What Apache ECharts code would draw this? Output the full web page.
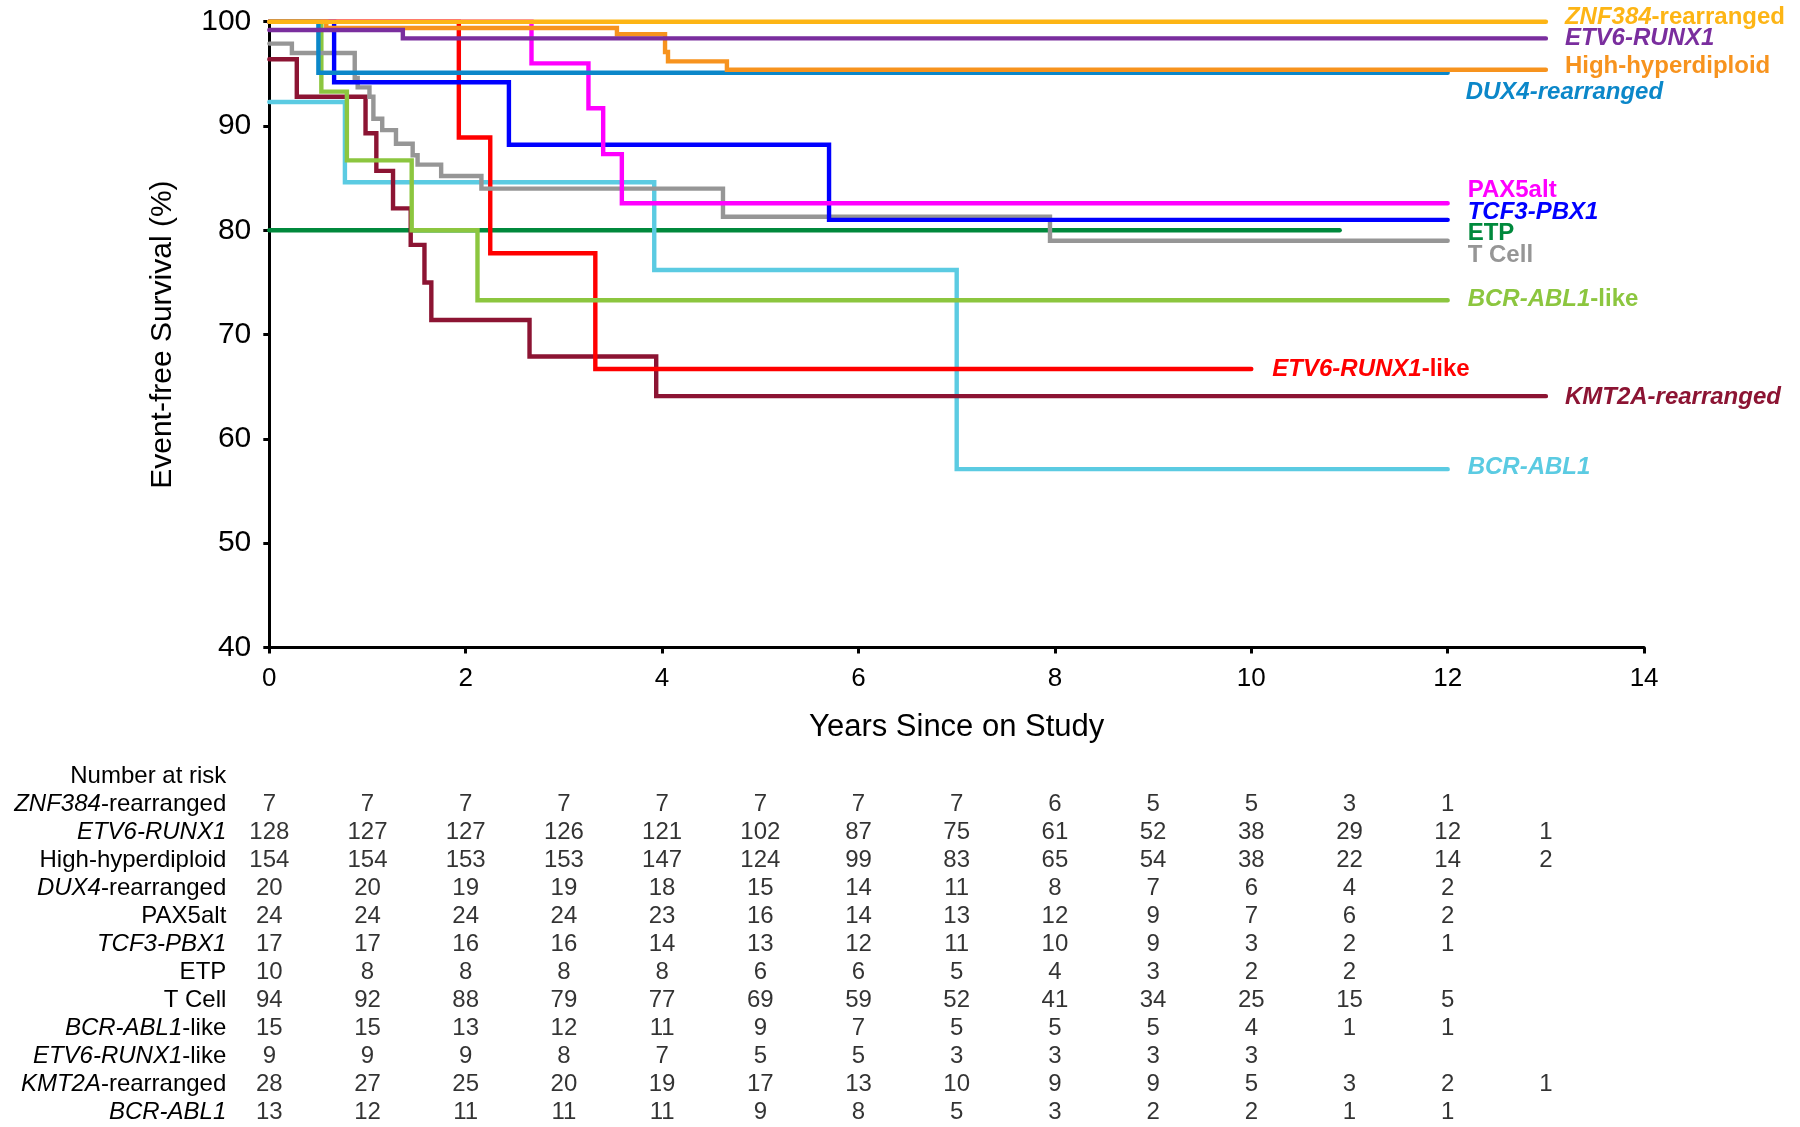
<!DOCTYPE html>
<html><head><meta charset="utf-8">
<script src="https://cdn.jsdelivr.net/npm/echarts@6/dist/echarts.min.js"></script>
<style>html,body{margin:0;padding:0;background:#fff}#c{width:1800px;height:1127px}</style>
</head><body><div id="c"></div>
<script>
// ---------- Kaplan-Meier curves: [years, event-free survival %] ----------
const znf384Rearranged = [[0,100],[13,100]];
const etv6Runx1 = [[0,99.2],[1.36,98.4],[13,98.4]];
const highHyperdiploid = [[0,100],[0.58,99.4],[3.54,98.8],[4.03,97.1],[4.06,96.2],[4.66,95.4],[13,95.4]];
const dux4Rearranged = [[0,100],[0.5,95.1],[12,95.1]];
const pax5alt = [[0,100],[2.67,96.0],[3.25,91.7],[3.40,87.3],[3.59,82.6],[12,82.6]];
const tcf3Pbx1 = [[0,100],[0.66,94.2],[2.44,88.2],[5.7,81.0],[12,81.0]];
const etp = [[0,80],[10.9,80]];
const tCell = [[0,97.9],[0.23,97.0],[0.87,94.6],[0.90,93.7],[1.02,92.8],[1.06,90.7],[1.15,89.6],[1.29,88.3],[1.46,87.2],[1.51,86.3],[1.75,85.2],[2.16,84.0],[4.62,81.3],[7.95,79.0],[12,79.0]];
const bcrAbl1Like = [[0,100],[0.53,93.3],[0.79,86.7],[1.45,80.0],[2.12,73.3],[12,73.3]];
const etv6Runx1Like = [[0,100],[1.93,88.9],[2.25,77.8],[3.32,66.7],[10,66.7]];
const kmt2aRearranged = [[0,96.4],[0.28,92.8],[0.98,89.3],[1.09,85.7],[1.26,82.1],[1.44,78.6],[1.58,75.0],[1.65,71.4],[2.65,67.9],[3.94,64.1],[13,64.1]];
const bcrAbl1 = [[0,92.3],[0.77,84.6],[3.92,76.2],[7.0,57.1],[12,57.1]];

// ---------- axes ----------
const xTicks = [0,2,4,6,8,10,12,14];
const yTicks = [40,50,60,70,80,90,100];

// ---------- Number at risk (years 0..13) ----------
const riskYears = [0,1,2,3,4,5,6,7,8,9,10,11,12,13];
const riskZNF384 = [7,7,7,7,7,7,7,7,6,5,5,3,1];
const riskETV6RUNX1 = [128,127,127,126,121,102,87,75,61,52,38,29,12,1];
const riskHighHyper = [154,154,153,153,147,124,99,83,65,54,38,22,14,2];
const riskDUX4 = [20,20,19,19,18,15,14,11,8,7,6,4,2];
const riskPAX5alt = [24,24,24,24,23,16,14,13,12,9,7,6,2];
const riskTCF3 = [17,17,16,16,14,13,12,11,10,9,3,2,1];
const riskETP = [10,8,8,8,8,6,6,5,4,3,2,2];
const riskTCell = [94,92,88,79,77,69,59,52,41,34,25,15,5];
const riskBCRABL1Like = [15,15,13,12,11,9,7,5,5,5,4,1,1];
const riskETV6Like = [9,9,9,8,7,5,5,3,3,3,3];
const riskKMT2A = [28,27,25,20,19,17,13,10,9,9,5,3,2,1];
const riskBCRABL1 = [13,12,11,11,11,9,8,5,3,2,2,1,1];

const F = '"Liberation Sans", Arial, Helvetica, sans-serif';

// name parts: [text, italic]
const groups = [
  {name:'ZNF384-rearranged', parts:[['ZNF384',1],['-rearranged',0]], labelParts:[['ZNF384',1],['-rearranged',0]], data:znf384Rearranged, risk:riskZNF384, color:'#FDB515', off:[19,-4.5]},
  {name:'ETV6-RUNX1', parts:[['ETV6-RUNX1',1]], labelParts:[['ETV6-RUNX1',1]], data:etv6Runx1, risk:riskETV6RUNX1, color:'#7A2E9E', off:[19,0]},
  {name:'High-hyperdiploid', parts:[['High-hyperdiploid',0]], labelParts:[['High-hyperdiploid',0]], data:highHyperdiploid, risk:riskHighHyper, color:'#F7931E', off:[19,-3]},
  {name:'DUX4-rearranged', parts:[['DUX4',1],['-rearranged',0]], labelParts:[['DUX4-rearranged',1]], data:dux4Rearranged, risk:riskDUX4, color:'#0B87C9', off:[18,19.5]},
  {name:'PAX5alt', parts:[['PAX5alt',0]], labelParts:[['PAX5alt',0]], data:pax5alt, risk:riskPAX5alt, color:'#FF00FF', off:[20,-12.5]},
  {name:'TCF3-PBX1', parts:[['TCF3-PBX1',1]], labelParts:[['TCF3-PBX1',1]], data:tcf3Pbx1, risk:riskTCF3, color:'#0000FF', off:[20,-7.5]},
  {name:'ETP', parts:[['ETP',0]], labelParts:[['ETP',0]], data:etp, risk:riskETP, color:'#00893C', off:[128,3]},
  {name:'T Cell', parts:[['T Cell',0]], labelParts:[['T Cell',0]], data:tCell, risk:riskTCell, color:'#969696', off:[20,14.5]},
  {name:'BCR-ABL1-like', parts:[['BCR-ABL1',1],['-like',0]], labelParts:[['BCR-ABL1',1],['-like',0]], data:bcrAbl1Like, risk:riskBCRABL1Like, color:'#8CC63F', off:[20,-0.5]},
  {name:'ETV6-RUNX1-like', parts:[['ETV6-RUNX1',1],['-like',0]], labelParts:[['ETV6-RUNX1',1],['-like',0]], data:etv6Runx1Like, risk:riskETV6Like, color:'#FF0000', off:[21,0]},
  {name:'KMT2A-rearranged', parts:[['KMT2A',1],['-rearranged',0]], labelParts:[['KMT2A-rearranged',1]], data:kmt2aRearranged, risk:riskKMT2A, color:'#8C1433', off:[19,1]},
  {name:'BCR-ABL1', parts:[['BCR-ABL1',1]], labelParts:[['BCR-ABL1',1]], data:bcrAbl1, risk:riskBCRABL1, color:'#5BCBE2', off:[20,-2]}
];
const drawOrder = ['ETP','BCR-ABL1','KMT2A-rearranged','ETV6-RUNX1-like','BCR-ABL1-like','T Cell','TCF3-PBX1','PAX5alt','DUX4-rearranged','High-hyperdiploid','ETV6-RUNX1','ZNF384-rearranged'];

const rowNames = ['Number at risk'].concat(groups.map(g => g.name));
const rowParts = {'Number at risk':[['Number at risk',0]]};
groups.forEach(g => rowParts[g.name] = g.parts);

const chart = echarts.init(document.getElementById('c'), null, {renderer:'canvas'});

const kmSeries = drawOrder.map(nm => {
  const g = groups.find(x => x.name === nm);
  return {
    type:'line', name:g.name, data:g.data, step:'end', symbol:'none',
    xAxisIndex:0, yAxisIndex:0, clip:false, animation:false,
    lineStyle:{color:g.color, width:4.4, cap:'round', join:'miter'},
    itemStyle:{color:g.color},
    emphasis:{disabled:true},
    endLabel:{
      show:true, distance:0, offset:g.off,
      formatter:() => g.labelParts.map(p => '{' + (p[1] ? 'bi' : 'b') + '|' + p[0] + '}').join(''),
      rich:{
        b:{fontFamily:F, fontSize:24, fontWeight:'bold', color:g.color},
        bi:{fontFamily:F, fontSize:24, fontWeight:'bold', fontStyle:'italic', color:g.color}
      }
    }
  };
});

const riskData = [];
groups.forEach((g, gi) => {
  g.risk.forEach((n, i) => riskData.push([riskYears[i], gi + 1, n]));
});

const riskSeries = {
  type:'scatter', xAxisIndex:1, yAxisIndex:1, data:riskData, symbolSize:1,
  itemStyle:{color:'rgba(0,0,0,0)'}, animation:false, silent:true,
  label:{show:true, position:'inside', formatter:p => String(p.value[2]),
    fontFamily:F, fontSize:24, color:'#000'}
};

chart.setOption({
  backgroundColor:'#fff',
  animation:false,
  grid:[
    {left:269.3, width:1374.8, top:21.7, height:625.8},
    {left:269.3, width:1374.8, top:762.5, height:364}
  ],
  xAxis:[
    {type:'value', gridIndex:0, min:xTicks[0], max:xTicks[xTicks.length-1], interval:xTicks[1]-xTicks[0],
      name:'Years Since on Study', nameLocation:'middle', nameGap:64,
      nameTextStyle:{fontFamily:F, fontSize:31, color:'#000'},
      axisLine:{show:true, onZero:false, lineStyle:{color:'#000', width:3}},
      axisTick:{show:true, inside:false, length:6, lineStyle:{color:'#000', width:3}},
      axisLabel:{fontFamily:F, fontSize:26, color:'#000', margin:18},
      splitLine:{show:false}},
    {type:'value', gridIndex:1, min:xTicks[0], max:xTicks[xTicks.length-1], show:false}
  ],
  yAxis:[
    {type:'value', gridIndex:0, min:yTicks[0], max:yTicks[yTicks.length-1], interval:yTicks[1]-yTicks[0],
      name:'Event-free Survival (%)', nameLocation:'middle', nameGap:92, nameRotate:90,
      nameTextStyle:{fontFamily:F, fontSize:30, color:'#000'},
      axisLine:{show:true, onZero:false, lineStyle:{color:'#000', width:3}},
      axisTick:{show:true, inside:false, length:6, lineStyle:{color:'#000', width:3}},
      axisLabel:{fontFamily:F, fontSize:30, color:'#000', margin:18},
      splitLine:{show:false}},
    {type:'category', gridIndex:1, data:rowNames, inverse:true,
      axisLine:{show:false}, axisTick:{show:false}, splitLine:{show:false},
      axisLabel:{interval:0, margin:43, fontFamily:F, fontSize:24, color:'#000',
        formatter:v => rowParts[v].map(p => '{' + (p[1] ? 'i' : 'n') + '|' + p[0] + '}').join(''),
        rich:{
          n:{fontFamily:F, fontSize:24, color:'#000'},
          i:{fontFamily:F, fontSize:24, fontStyle:'italic', color:'#000'}
        }}}
  ],
  series: kmSeries.concat([riskSeries])
});
</script>
</body></html>
